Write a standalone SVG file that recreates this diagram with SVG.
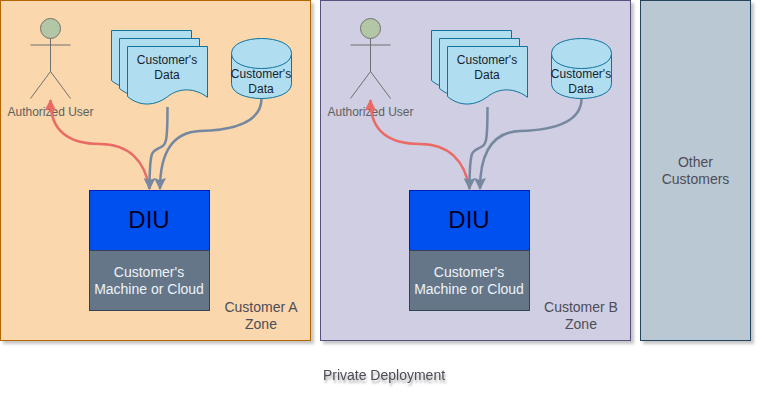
<svg xmlns="http://www.w3.org/2000/svg" width="762" height="402" viewBox="0 0 762 402">
<style>
text{font-family:"Liberation Sans",Arial,sans-serif;text-anchor:middle}
.zone{stroke-width:1;filter:url(#sh)}
.a{fill:#fad7ac;stroke:#b46504}
.b{fill:#d0cee2;stroke:#56517e}
.c{fill:#bac8d3;stroke:#23445d}
.zt{font-size:14px;fill:#4d4d58}
.dt{font-size:12px;fill:#14232e}
.ut{font-size:12px;fill:#5f5f5f}
.head{fill:#0050ef;stroke:#001dbc}
.mach{fill:#647687;stroke:#314354}
.mt{font-size:14px;fill:#eef2fa}
.diu{font-size:24px;fill:#000020}
.doc{fill:#b1ddf0;stroke:#10739e}
.act{fill:none;stroke:#707070}
.hd{fill:#b3c7a6;stroke:#707070}
.g{fill:none;stroke:#7688a0;stroke-width:2.5}
.r{fill:none;stroke:#ea6b66;stroke-width:2.5}
</style>
<defs>
<filter id="sh" x="-5%" y="-5%" width="112%" height="112%"><feDropShadow dx="3" dy="3" stdDeviation="1.7" flood-color="#808080" flood-opacity="0.45"/></filter>
<filter id="ts" x="-5%" y="-30%" width="112%" height="170%"><feDropShadow dx="1" dy="3" stdDeviation="1.2" flood-color="#707070" flood-opacity="0.6"/></filter>
<marker id="mg" viewBox="0 0 12 12" refX="11" refY="6" markerUnits="userSpaceOnUse" markerWidth="12" markerHeight="12" orient="auto"><path d="M0 0L12 6L0 12L2 6Z" fill="#7688a0"/></marker>
<marker id="mr" viewBox="0 0 12 12" refX="11" refY="6" markerUnits="userSpaceOnUse" markerWidth="12" markerHeight="12" orient="auto"><path d="M0 0L12 6L0 12L2 6Z" fill="#ea6b66"/></marker>
<path id="sheet" class="doc" d="M127.500 46.500H207.500V97.300C195 88 180 87 167.500 96.700C155 106 140 107 127.500 96.500Z"/>
<g id="actor"><circle class="hd" cx="50.500" cy="28.500" r="10"/><path class="act" d="M50.500 38.500V71.500M30.500 45H70.500M30.500 98.500L50.500 71.500L70.500 98.500"/><text class="ut" x="50.500" y="116">Authorized User</text></g>
<g id="docs"><use href="#sheet" x="-16" y="-16"/><use href="#sheet" x="-8" y="-8"/><use href="#sheet"/><text class="dt" x="167" y="64">Customer's</text><text class="dt" x="167" y="79">Data</text></g>
<g id="cyl"><path class="doc" d="M231.500 53.500C231.500 33.500 291.500 33.500 291.500 53.500V83.500C291.500 103.500 231.500 103.500 231.500 83.500Z"/><path class="doc" d="M231.500 53.500C231.500 73.500 291.500 73.500 291.500 53.500" fill="none"/><text class="dt" x="261" y="78">Customer's</text><text class="dt" x="261" y="93">Data</text></g>
<g id="dep"><rect class="head" x="89.500" y="190.500" width="120" height="60"/><text class="diu" x="149" y="228">DIU</text><rect class="mach" x="89.500" y="250.500" width="120" height="60"/><text class="mt" x="149" y="277">Customer's</text><text class="mt" x="149" y="294">Machine or Cloud</text></g>
<g id="links"><path class="r" d="M149.500 189C145 160 128 144 100 144C70 144 50 132 50.500 100" marker-end="url(#mr)"/><path class="g" d="M167.500 107C167.500 125 167 135 166 140C164 150 156 146 152 154C150 160 149.500 170 149.500 189" marker-end="url(#mg)"/><path class="g" d="M261.500 99C261 122 235 130 200 131C175 132 160 150 160 189" marker-end="url(#mg)"/></g>
</defs>
<g id="zone-a"><rect class="zone a" x="0.500" y="0.500" width="310" height="340"/><text class="zt" x="261" y="312">Customer A</text><text class="zt" x="261" y="329">Zone</text></g>
<g id="zone-b"><rect class="zone b" x="320.500" y="0.500" width="310" height="340"/><text class="zt" x="581" y="312">Customer B</text><text class="zt" x="581" y="329">Zone</text></g>
<g id="zone-other"><rect class="zone c" x="640.500" y="0.500" width="110" height="340"/><text class="zt" x="695.500" y="167">Other</text><text class="zt" x="695.500" y="184">Customers</text></g>
<g id="a-actor"><use href="#actor"/></g>
<g id="a-docs"><use href="#docs"/></g>
<g id="a-cylinder"><use href="#cyl"/></g>
<g id="a-diu"><use href="#dep"/></g>
<g id="b-actor" transform="translate(320)"><use href="#actor"/></g>
<g id="b-docs" transform="translate(320)"><use href="#docs"/></g>
<g id="b-cylinder" transform="translate(320)"><use href="#cyl"/></g>
<g id="b-diu" transform="translate(320)"><use href="#dep"/></g>
<g id="connectors"><use href="#links"/><use href="#links" transform="translate(320)"/></g>
<g id="caption"><text class="zt" x="384" y="380" filter="url(#ts)">Private Deployment</text></g>
</svg>
